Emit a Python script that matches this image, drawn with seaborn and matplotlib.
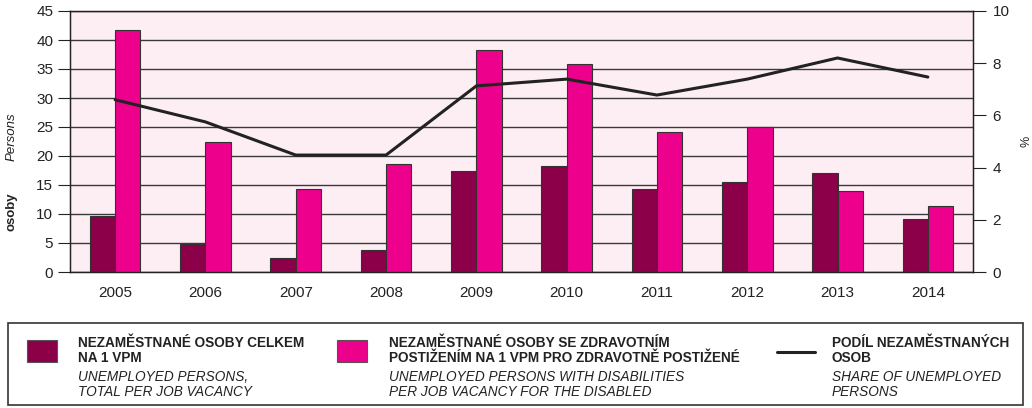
import numpy as np
import pandas as pd
import matplotlib.pyplot as plt
import seaborn as sns
from matplotlib.patches import Rectangle
from matplotlib.lines import Line2D

# data
years = ['2005', '2006', '2007', '2008', '2009', '2010', '2011', '2012', '2013', '2014']
total_per_vacancy = [9.7, 4.8, 2.4, 3.8, 17.4, 18.3, 14.3, 15.5, 17.1, 9.1]
disabled_per_vacancy = [41.8, 22.4, 14.3, 18.6, 38.3, 35.9, 24.1, 25.0, 14.0, 11.4]
share_unemployed = [6.6, 5.75, 4.48, 4.48, 7.13, 7.39, 6.78, 7.39, 8.2, 7.47]

series_names = ['total', 'disabled']
dark = '#8B0048'
pink = '#EC008C'
bg = '#FDEEF4'

df = pd.DataFrame({
    'year': years * 2,
    'value': total_per_vacancy + disabled_per_vacancy,
    'series': [series_names[0]] * len(years) + [series_names[1]] * len(years),
})

sns.set_style("white")
plt.rcParams['font.family'] = ['Liberation Sans', 'DejaVu Sans']

fig = plt.figure(figsize=(10.32, 4.08), dpi=100)
ax = fig.add_axes([70 / 1032, 1 - 272 / 408, 903 / 1032, 261 / 408])
ax.set_facecolor(bg)

sns.barplot(data=df, x='year', y='value', hue='series', palette=[dark, pink], saturation=1,
            width=0.56, edgecolor='#333333', linewidth=0.8, ax=ax, legend=False, zorder=3)

ax.set_ylim(0, 45)
ax.set_yticks(np.arange(0, 46, 5))
ax.set_xlim(-0.5, len(years) - 0.5)
ax.yaxis.grid(True, color='#3a3a3a', linewidth=1.0, zorder=0)
ax.set_axisbelow(True)
ax.set_xlabel('')
ax.set_ylabel('')
ax.tick_params(axis='x', which='major', length=0, labelsize=11, pad=10, colors='#222222')
ax.set_xticks(np.arange(-0.5, len(years), 1), minor=True)
ax.tick_params(axis='x', which='minor', length=7, width=0.8, color='#555555', direction='out')
ax.tick_params(axis='y', length=9, width=0.8, labelsize=11, pad=3, colors='#222222')
for s in ax.spines.values():
    s.set_color('#222222')
    s.set_linewidth(1.0)

ax2 = ax.twinx()
sns.lineplot(x=np.arange(len(years)), y=share_unemployed, color='#222222', linewidth=2.2, ax=ax2)
ax2.set_ylim(0, 10)
ax2.set_yticks(np.arange(0, 11, 2))
ax2.tick_params(axis='y', length=9, width=0.8, labelsize=11, pad=5, colors='#222222')
ax2.set_ylabel('%', fontsize=9, color='#222222', labelpad=8)
for s in ax2.spines.values():
    s.set_color('#222222')

# left axis label: bold Czech + italic English
fig.text(12 / 1032, 1 - 212 / 408, 'osoby', rotation=90, fontsize=9.5, fontweight='bold',
         ha='center', va='center', color='#222222')
fig.text(12 / 1032, 1 - 137 / 408, 'Persons', rotation=90, fontsize=9.5, fontstyle='italic',
         ha='center', va='center', color='#222222')

# legend box
W, H = 1032, 408
fig.patches.append(Rectangle((8 / W, 1 - 405 / H), 1015 / W, 82 / H, transform=fig.transFigure,
                             facecolor='white', edgecolor='#333333', linewidth=1.2))
fig.patches.append(Rectangle((27 / W, 1 - 362 / H), 30 / W, 22 / H, transform=fig.transFigure,
                             facecolor=dark, edgecolor='#555555', linewidth=0.8))
fig.patches.append(Rectangle((337 / W, 1 - 362 / H), 30 / W, 22 / H, transform=fig.transFigure,
                             facecolor=pink, edgecolor='#555555', linewidth=0.8))
fig.lines.append(Line2D([777 / W, 815 / W], [1 - 352 / H, 1 - 352 / H], transform=fig.transFigure,
                        color='#222222', linewidth=2.2))

legend_items = [
    (78, ['NEZAMĚSTNANÉ OSOBY CELKEM', 'NA 1 VPM'], ['UNEMPLOYED PERSONS,', 'TOTAL PER JOB VACANCY']),
    (389, ['NEZAMĚSTNANÉ OSOBY SE ZDRAVOTNÍM', 'POSTIŽENÍM NA 1 VPM PRO ZDRAVOTNĚ POSTIŽENÉ'],
     ['UNEMPLOYED PERSONS WITH DISABILITIES', 'PER JOB VACANCY FOR THE DISABLED']),
    (832, ['PODÍL NEZAMĚSTNANÝCH', 'OSOB'], ['SHARE OF UNEMPLOYED', 'PERSONS']),
]
ys = [343, 358, 377, 392]
for x0, bold_lines, it_lines in legend_items:
    for i, t in enumerate(bold_lines):
        fig.text(x0 / W, 1 - ys[i] / H, t, fontsize=9.8, fontweight='bold', va='center',
                 ha='left', color='#222222')
    for i, t in enumerate(it_lines):
        fig.text(x0 / W, 1 - ys[i + 2] / H, t, fontsize=9.8, fontstyle='italic', va='center',
                 ha='left', color='#222222')

fig.savefig('out.png', dpi=100)
